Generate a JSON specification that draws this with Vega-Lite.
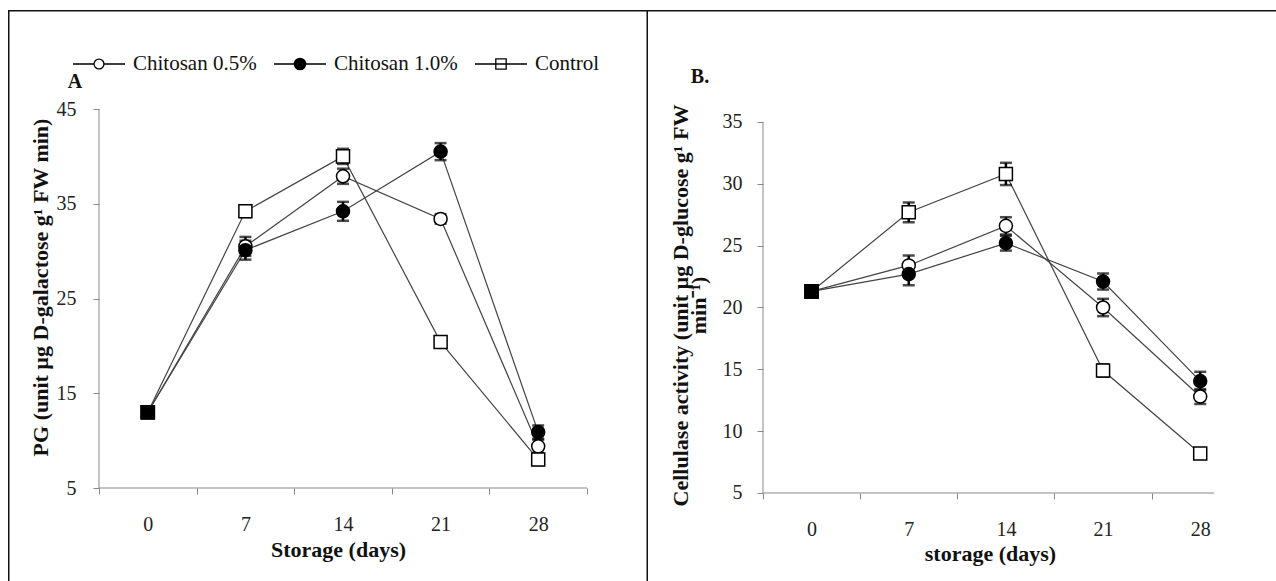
{
  "$schema": "https://vega.github.io/schema/vega-lite/v6.json",
  "padding": {"left": 8, "top": 10, "right": 0, "bottom": 0},
  "autosize": {"type": "pad"},
  "background": "white",
  "spacing": 0,
  "config": {"view": {"stroke": null}, "axis": {"grid": false}, "font": "Liberation Serif"},
  "datasets": {
    "pg": [
      {"series": "Chitosan 0.5%", "day": 0, "v": 13.0, "err": 0.5},
      {"series": "Chitosan 0.5%", "day": 7, "v": 30.5, "err": 1.0},
      {"series": "Chitosan 0.5%", "day": 14, "v": 37.9, "err": 0.8},
      {"series": "Chitosan 0.5%", "day": 21, "v": 33.4, "err": 0.5},
      {"series": "Chitosan 0.5%", "day": 28, "v": 9.4, "err": 0.7},
      {"series": "Chitosan 1.0%", "day": 0, "v": 13.0, "err": 0.5},
      {"series": "Chitosan 1.0%", "day": 7, "v": 30.1, "err": 1.0},
      {"series": "Chitosan 1.0%", "day": 14, "v": 34.2, "err": 1.0},
      {"series": "Chitosan 1.0%", "day": 21, "v": 40.5, "err": 0.9},
      {"series": "Chitosan 1.0%", "day": 28, "v": 10.9, "err": 0.7},
      {"series": "Control", "day": 0, "v": 13.0, "err": 0.5},
      {"series": "Control", "day": 7, "v": 34.2, "err": 0.6},
      {"series": "Control", "day": 14, "v": 40.0, "err": 0.8},
      {"series": "Control", "day": 21, "v": 20.4, "err": 0.6},
      {"series": "Control", "day": 28, "v": 8.0, "err": 0.6}
    ],
    "cel": [
      {"series": "Chitosan 0.5%", "day": 0, "v": 21.3, "err": 0.4},
      {"series": "Chitosan 0.5%", "day": 7, "v": 23.4, "err": 0.8},
      {"series": "Chitosan 0.5%", "day": 14, "v": 26.6, "err": 0.7},
      {"series": "Chitosan 0.5%", "day": 21, "v": 20.0, "err": 0.7},
      {"series": "Chitosan 0.5%", "day": 28, "v": 12.8, "err": 0.6},
      {"series": "Chitosan 1.0%", "day": 0, "v": 21.3, "err": 0.4},
      {"series": "Chitosan 1.0%", "day": 7, "v": 22.7, "err": 0.9},
      {"series": "Chitosan 1.0%", "day": 14, "v": 25.2, "err": 0.6},
      {"series": "Chitosan 1.0%", "day": 21, "v": 22.1, "err": 0.65},
      {"series": "Chitosan 1.0%", "day": 28, "v": 14.05, "err": 0.75},
      {"series": "Control", "day": 0, "v": 21.3, "err": 0.4},
      {"series": "Control", "day": 7, "v": 27.7, "err": 0.8},
      {"series": "Control", "day": 14, "v": 30.8, "err": 0.9},
      {"series": "Control", "day": 21, "v": 14.9, "err": 0.5},
      {"series": "Control", "day": 28, "v": 8.2, "err": 0.4}
    ]
  },
  "resolve": {"scale": {"shape": "independent", "fill": "independent"}},
  "hconcat": [
    {
      "width": 640,
      "height": 571,
      "data": {"name": "pg"},
      "resolve": {"scale": {"shape": "independent", "fill": "independent"}},
      "layer": [
        {
          "mark": {"type": "line", "color": "#444", "strokeWidth": 1.2},
          "encoding": {
            "x": {
              "field": "day", "type": "quantitative",
              "scale": {"domain": [-10.0266, 35.875], "nice": false, "zero": false},
              "axis": {
                "orient": "bottom", "offset": -93,
                "values": [-3.5, 0, 3.5, 7, 10.5, 14, 17.5, 21, 24.5, 28, 31.5],
                "domain": false, "grid": false,
                "tickColor": "#888", "tickSize": 6,
                "tickOpacity": {"condition": {"test": "datum.value % 7 === 0", "value": 0}, "value": 1},
                "labelExpr": "datum.value % 7 === 0 ? datum.value : ''",
                "labelFont": "Liberation Serif", "labelFontSize": 20, "labelColor": "#222",
                "labelPadding": 20, "labelOverlap": false, "labelFlush": false, "labelBound": false,
                "title": "Storage (days)",
                "titleFont": "Liberation Serif", "titleFontSize": 22, "titleFontWeight": "bold", "titleColor": "#111",
                "titleX": 330, "titleY": 61, "titleBaseline": "middle"
              }
            },
            "y": {
              "field": "v", "type": "quantitative",
              "scale": {"domain": [-4.815, 55.449], "nice": false, "zero": false},
              "axis": {
                "orient": "left", "offset": -91,
                "values": [5, 15, 25, 35, 45],
                "domain": false, "grid": false,
                "tickColor": "#888", "tickSize": 6,
                "labelFont": "Liberation Serif", "labelFontSize": 20, "labelColor": "#222",
                "labelPadding": 17, "labelOverlap": false, "labelFlush": false,
                "title": "PG (unit µg D-galactose g¹ FW min)",
                "titleFont": "Liberation Serif", "titleFontSize": 22, "titleFontWeight": "bold", "titleColor": "#111",
                "titleX": -59, "titleY": 277, "titleBaseline": "middle"
              }
            },
            "detail": {"field": "series"}
          }
        },
        {
          "mark": {"type": "errorbar", "color": "black", "thickness": 2.5, "ticks": {"size": 12, "thickness": 2.5, "color": "black"}},
          "encoding": {
            "x": {"field": "day", "type": "quantitative"},
            "y": {"field": "v", "type": "quantitative", "title": ""},
            "yError": {"field": "err"}
          }
        },
        {
          "mark": {"type": "point", "size": 170, "strokeWidth": 1.5, "stroke": "black", "opacity": 1, "filled": false},
          "encoding": {
            "x": {"field": "day", "type": "quantitative"},
            "y": {"field": "v", "type": "quantitative"},
            "shape": {
              "condition": {"test": "datum.day === 0", "value": "square"},
              "field": "series", "type": "nominal",
              "scale": {"domain": ["Chitosan 0.5%", "Chitosan 1.0%", "Control"], "range": ["circle", "circle", "square"]},
              "legend": null
            },
            "fill": {
              "condition": {"test": "datum.day === 0", "value": "black"},
              "field": "series", "type": "nominal",
              "scale": {"domain": ["Chitosan 0.5%", "Chitosan 1.0%", "Control"], "range": ["white", "black", "white"]},
              "legend": null
            }
          }
        },
        {
          "mark": {"type": "point", "opacity": 0, "filled": false, "color": "black", "strokeWidth": 1.3},
          "encoding": {
            "x": {"field": "day", "type": "quantitative"},
            "y": {"field": "v", "type": "quantitative"},
            "shape": {
              "field": "series", "type": "nominal",
              "scale": {
                "domain": ["Chitosan 0.5%", "Chitosan 1.0%", "Control"],
                "range": [
                  "M-1,0H-0.19M0.19,0H1M-0.19,0A0.19,0.19,0,1,0,0.19,0A0.19,0.19,0,1,0,-0.19,0",
                  "M-1,0H-0.22M0.22,0H1M-0.22,0A0.22,0.22,0,1,0,0.22,0A0.22,0.22,0,1,0,-0.22,0M-0.17,0A0.17,0.17,0,1,0,0.17,0A0.17,0.17,0,1,0,-0.17,0M-0.12,0A0.12,0.12,0,1,0,0.12,0A0.12,0.12,0,1,0,-0.12,0M-0.07,0A0.07,0.07,0,1,0,0.07,0A0.07,0.07,0,1,0,-0.07,0M-0.025,0A0.025,0.025,0,1,0,0.025,0A0.025,0.025,0,1,0,-0.025,0",
                  "M-1,0H1M-0.2,-0.2H0.2V0.2H-0.2Z"
                ]
              },
              "legend": {
                "orient": "none", "direction": "horizontal",
                "legendX": 64, "legendY": 27, "title": null,
                "symbolSize": 2704, "symbolOpacity": 1,
                "symbolStrokeColor": "black", "symbolStrokeWidth": 1.3,
                "labelFont": "Liberation Serif", "labelFontSize": 21, "labelColor": "#111",
                "labelOffset": 7, "columnPadding": 14, "padding": 0
              }
            }
          }
        },
        {
          "data": {"values": [{}]},
          "mark": {"type": "rule", "color": "#888", "strokeWidth": 1},
          "encoding": {
            "x": {"datum": -3.5, "type": "quantitative"},
            "x2": {"datum": 31.5},
            "y": {"datum": 5, "type": "quantitative"}
          }
        },
        {
          "data": {"values": [{}]},
          "mark": {"type": "rule", "color": "#888", "strokeWidth": 1},
          "encoding": {
            "x": {"datum": -3.5, "type": "quantitative"},
            "y": {"datum": 5, "type": "quantitative"},
            "y2": {"datum": 45}
          }
        },
        {
          "data": {"values": [{}]},
          "mark": {"type": "rule", "color": "#111", "strokeWidth": 3, "clip": true},
          "encoding": {"x": {"datum": -10.0266, "type": "quantitative"}}
        },
        {
          "data": {"values": [{}]},
          "mark": {"type": "rule", "color": "#111", "strokeWidth": 3, "clip": true},
          "encoding": {"x": {"datum": 35.875, "type": "quantitative"}}
        },
        {
          "data": {"values": [{}]},
          "mark": {"type": "rule", "color": "#111", "strokeWidth": 3, "clip": true},
          "encoding": {"y": {"datum": 55.449, "type": "quantitative"}}
        },
        {
          "data": {"values": [{}]},
          "mark": {"type": "text", "text": "A", "font": "Liberation Serif", "fontSize": 20, "fontWeight": "bold", "color": "#111"},
          "encoding": {
            "x": {"datum": -5.22, "type": "quantitative"},
            "y": {"datum": 47.85, "type": "quantitative"}
          }
        }
      ]
    },
    {
      "width": 628,
      "height": 571,
      "data": {"name": "cel"},
      "layer": [
        {
          "mark": {"type": "line", "color": "#444", "strokeWidth": 1.2},
          "encoding": {
            "x": {
              "field": "day", "type": "quantitative",
              "scale": {"domain": [-11.785, 33.46], "nice": false, "zero": false},
              "axis": {
                "orient": "bottom", "offset": -88,
                "values": [-3.5, 0, 3.5, 7, 10.5, 14, 17.5, 21, 24.5, 28],
                "domain": false, "grid": false,
                "tickColor": "#888", "tickSize": 6,
                "tickOpacity": {"condition": {"test": "datum.value % 7 === 0", "value": 0}, "value": 1},
                "labelExpr": "datum.value % 7 === 0 ? datum.value : ''",
                "labelFont": "Liberation Serif", "labelFontSize": 20, "labelColor": "#222",
                "labelPadding": 20, "labelOverlap": false, "labelFlush": false, "labelBound": false,
                "title": "storage (days)",
                "titleFont": "Liberation Serif", "titleFontSize": 22, "titleFontWeight": "bold", "titleColor": "#111",
                "titleX": 342, "titleY": 60, "titleBaseline": "middle"
              }
            },
            "y": {
              "field": "v", "type": "quantitative",
              "scale": {"domain": [-2.116, 44.056], "nice": false, "zero": false},
              "axis": {
                "orient": "left", "offset": -115,
                "values": [5, 10, 15, 20, 25, 30, 35],
                "domain": false, "grid": false,
                "tickColor": "#888", "tickSize": 6,
                "labelFont": "Liberation Serif", "labelFontSize": 20, "labelColor": "#222",
                "labelPadding": 15, "labelOverlap": false, "labelFlush": false,
                "title": ["Cellulase activity (unit µg D-glucose g¹ FW", "min⁻¹)"],
                "titleFont": "Liberation Serif", "titleFontSize": 22, "titleFontWeight": "bold", "titleColor": "#111",
                "titleLineHeight": 18,
                "titleX": -83, "titleY": 295, "titleBaseline": "middle"
              }
            },
            "detail": {"field": "series"}
          }
        },
        {
          "mark": {"type": "errorbar", "color": "black", "thickness": 2.5, "ticks": {"size": 12, "thickness": 2.5, "color": "black"}},
          "encoding": {
            "x": {"field": "day", "type": "quantitative"},
            "y": {"field": "v", "type": "quantitative", "title": ""},
            "yError": {"field": "err"}
          }
        },
        {
          "mark": {"type": "point", "size": 170, "strokeWidth": 1.5, "stroke": "black", "opacity": 1, "filled": false},
          "encoding": {
            "x": {"field": "day", "type": "quantitative"},
            "y": {"field": "v", "type": "quantitative"},
            "shape": {
              "condition": {"test": "datum.day === 0", "value": "square"},
              "field": "series", "type": "nominal",
              "scale": {"domain": ["Chitosan 0.5%", "Chitosan 1.0%", "Control"], "range": ["circle", "circle", "square"]},
              "legend": null
            },
            "fill": {
              "condition": {"test": "datum.day === 0", "value": "black"},
              "field": "series", "type": "nominal",
              "scale": {"domain": ["Chitosan 0.5%", "Chitosan 1.0%", "Control"], "range": ["white", "black", "white"]},
              "legend": null
            }
          }
        },
        {
          "data": {"values": [{}]},
          "mark": {"type": "rule", "color": "#888", "strokeWidth": 1},
          "encoding": {
            "x": {"datum": -3.5, "type": "quantitative"},
            "x2": {"datum": 29.0},
            "y": {"datum": 5, "type": "quantitative"}
          }
        },
        {
          "data": {"values": [{}]},
          "mark": {"type": "rule", "color": "#888", "strokeWidth": 1},
          "encoding": {
            "x": {"datum": -3.5, "type": "quantitative"},
            "y": {"datum": 5, "type": "quantitative"},
            "y2": {"datum": 35}
          }
        },
        {
          "data": {"values": [{}]},
          "mark": {"type": "rule", "color": "#111", "strokeWidth": 3, "clip": true},
          "encoding": {"y": {"datum": 44.056, "type": "quantitative"}}
        },
        {
          "data": {"values": [{}]},
          "mark": {"type": "text", "text": "B.", "font": "Liberation Serif", "fontSize": 20, "fontWeight": "bold", "color": "#111"},
          "encoding": {
            "x": {"datum": -8.04, "type": "quantitative"},
            "y": {"datum": 38.64, "type": "quantitative"}
          }
        }
      ]
    }
  ]
}
